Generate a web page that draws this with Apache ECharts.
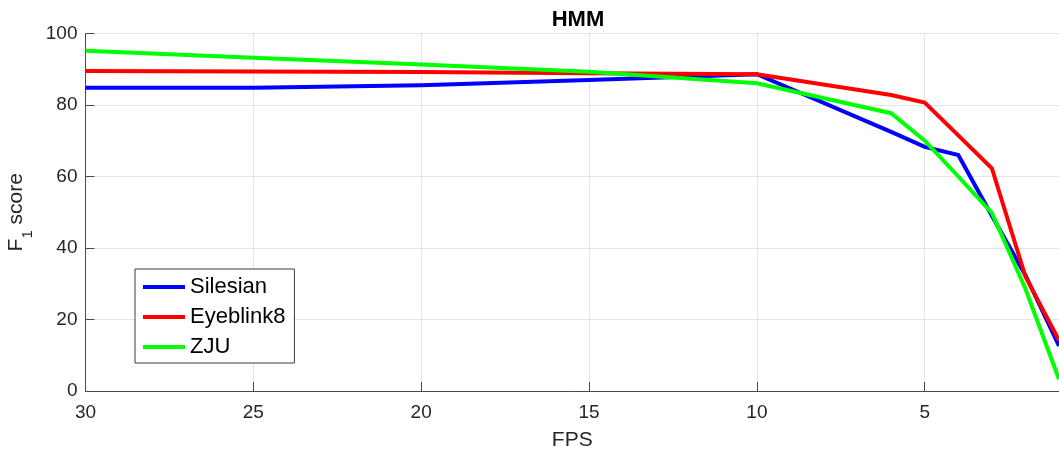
<!DOCTYPE html>
<html>
<head>
<meta charset="utf-8">
<script src="https://cdn.jsdelivr.net/npm/echarts@6/dist/echarts.min.js"></script>
<style>
  html, body { margin: 0; padding: 0; background: #ffffff; }
  #chart { width: 1059px; height: 454px; }
</style>
</head>
<body>
<div id="chart"></div>
<script>
// Frame rates (x) and F1 scores per dataset
const fps = [30, 25, 20, 15, 10, 6, 5, 4, 3, 2, 1];
const silesian = [84.8, 84.8, 85.5, 87.0, 88.6, 72.5, 68.3, 66.0, 49.0, 32.4, 12.6];
const eyeblink8 = [89.5, 89.4, 89.2, 88.9, 88.6, 82.8, 80.7, 71.5, 62.3, 32.0, 14.2];
const zju = [95.2, 93.2, 91.3, 89.3, 86.1, 77.7, 70.0, 60.0, 49.8, 28.6, 3.3];

const xTicks = [30, 25, 20, 15, 10, 5];
const yTicks = [0, 20, 40, 60, 80, 100];

const pairs = (ys) => fps.map((x, i) => [x, ys[i]]);

const axisColor = '#4a4a4a';
const textColor = '#262626';
const gridColor = '#e4e4e4';
const font = 'Liberation Sans, Arial, Helvetica, sans-serif';

const chart = echarts.init(document.getElementById('chart'), null, { renderer: 'canvas' });

function lineSeries(name, values, color) {
  return {
    name: name,
    type: 'line',
    data: pairs(values),
    symbol: 'none',
    showSymbol: false,
    smooth: false,
    lineStyle: { color: color, width: 4, join: 'miter' },
    itemStyle: { color: color },
    emphasis: { disabled: true },
    animation: false
  };
}

chart.setOption({
  animation: false,
  backgroundColor: '#ffffff',
  title: {
    text: 'HMM',
    left: 573,
    top: 4,
    textAlign: 'center',
    textStyle: { fontFamily: font, fontSize: 22, fontWeight: 'bold', color: '#000000' }
  },
  grid: { left: 85.5, right: 0, top: 33.5, bottom: 63, containLabel: false, outerBoundsMode: 'none' },
  legend: {
    orient: 'vertical',
    left: 135,
    top: 269,
    padding: [5, 9, 3, 8],
    itemGap: 4,
    itemWidth: 42,
    itemHeight: 4,
    backgroundColor: '#ffffff',
    borderColor: '#3a3a3a',
    borderWidth: 1,
    borderRadius: 0,
    icon: 'rect',
    textStyle: { fontFamily: font, fontSize: 22, color: '#000000', lineHeight: 26, padding: [0, 0, 0, 0] },
    data: ['Silesian', 'Eyeblink8', 'ZJU']
  },
  xAxis: {
    type: 'value',
    inverse: true,
    min: 1,
    max: 30,
    name: 'FPS',
    nameLocation: 'middle',
    nameGap: 39,
    nameTextStyle: { fontFamily: font, fontSize: 21, color: textColor },
    axisLine: { show: true, lineStyle: { color: axisColor, width: 1 } },
    axisTick: { show: true, inside: true, length: 9, customValues: xTicks, lineStyle: { color: axisColor } },
    axisLabel: { customValues: xTicks, margin: 12, fontFamily: font, fontSize: 19, color: textColor },
    splitLine: { show: true, lineStyle: { color: gridColor, width: 1 } }
  },
  yAxis: {
    type: 'value',
    min: 0,
    max: 100,
    interval: 20,
    name: 'F{sub|1} score',
    nameLocation: 'middle',
    nameRotate: 90,
    nameGap: 56,
    nameTextStyle: {
      fontFamily: font, fontSize: 21, color: textColor,
      rich: { sub: { fontFamily: font, fontSize: 15, color: textColor, verticalAlign: 'bottom', padding: [0, 0, -8, 0] } }
    },
    axisLine: { show: true, lineStyle: { color: axisColor, width: 1 } },
    axisTick: { show: true, inside: true, length: 9, lineStyle: { color: axisColor } },
    axisLabel: { margin: 8, fontFamily: font, fontSize: 19, color: textColor,
      customValues: yTicks },
    splitLine: { show: true, lineStyle: { color: gridColor, width: 1 } }
  },
  series: [
    lineSeries('Silesian', silesian, '#0000ff'),
    lineSeries('Eyeblink8', eyeblink8, '#ff0000'),
    lineSeries('ZJU', zju, '#00ff00')
  ]
});
</script>
</body>
</html>
